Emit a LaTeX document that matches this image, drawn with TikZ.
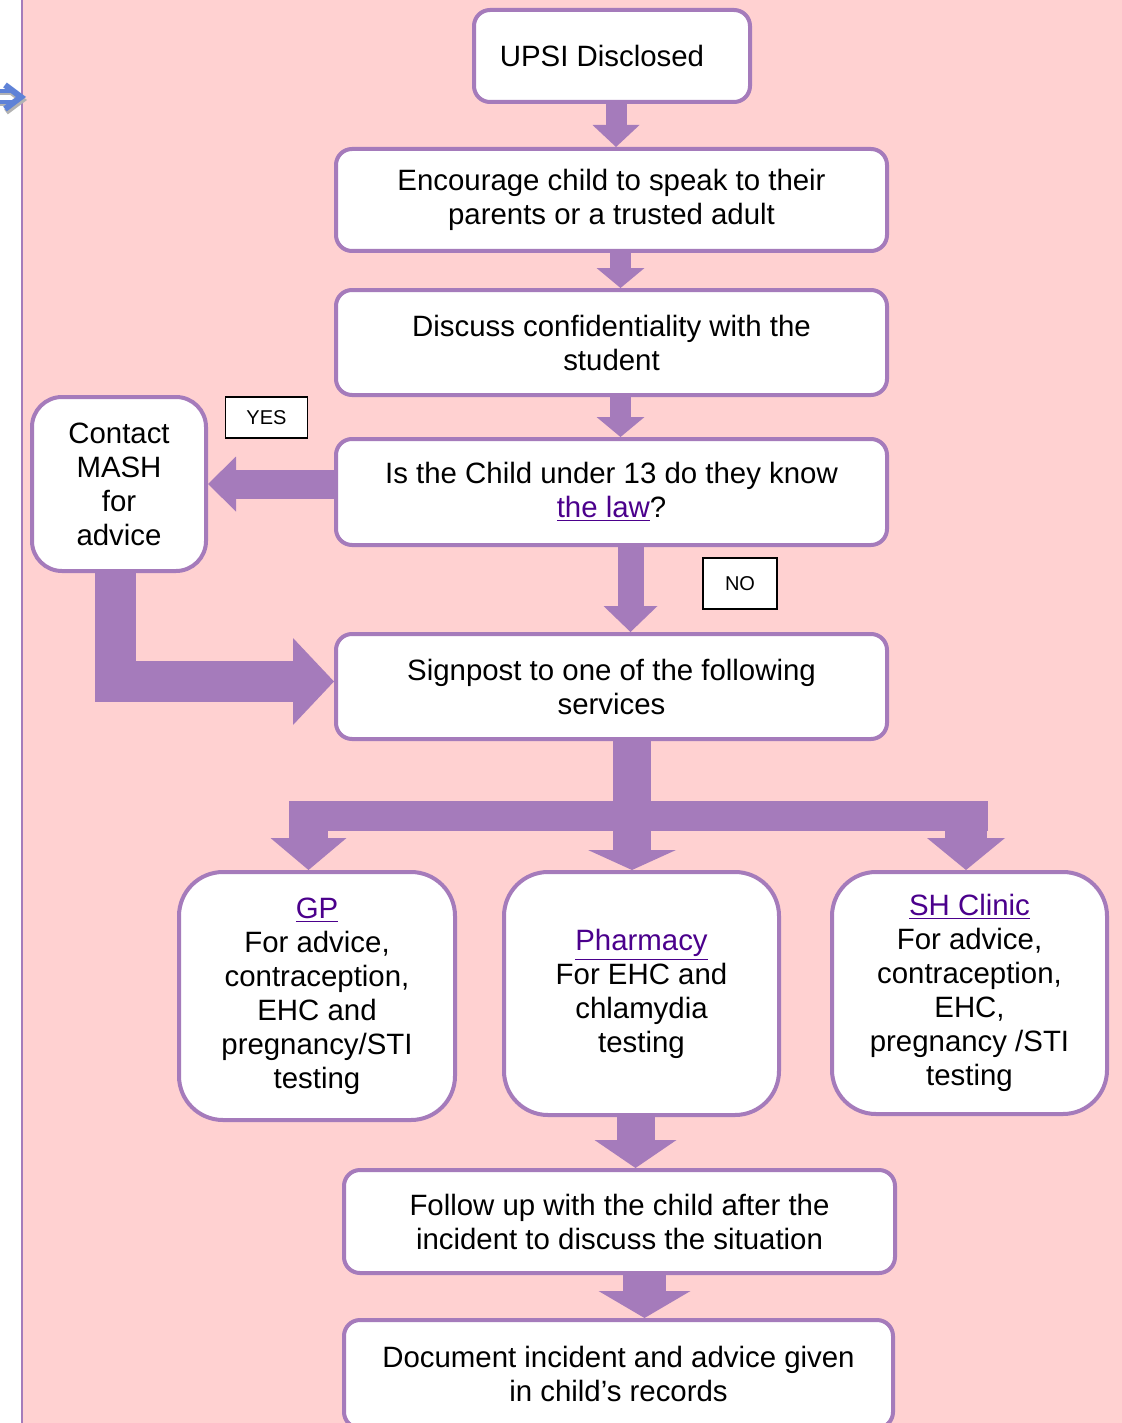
\documentclass[tikz,border=0pt]{standalone}
\usepackage{fontspec}
\setmainfont{Liberation Sans}
\usepackage{tikz}
\usetikzlibrary{arrows.meta, positioning}
\usepackage{xcolor}

\definecolor{pinkbg}{RGB}{255,209,209}
\definecolor{flowpurple}{RGB}{165,123,187}
\definecolor{linkpurple}{RGB}{75,0,140}
\definecolor{hintblue}{RGB}{95,130,215}
\newcommand{\weblink}[1]{\textcolor{linkpurple}{\underline{#1}}}

\begin{document}
\begin{tikzpicture}[x=0.5pt, y=-0.5pt,
    flowbox/.style={draw=flowpurple, line width=2pt, fill=white, rounded corners=8pt,
        align=center, inner sep=0pt, font=\fontsize{14.7}{17}\selectfont},
    tagbox/.style={draw=black, line width=0.7pt, fill=white, inner sep=0pt,
        font=\fontsize{10}{12}\selectfont},
    bigarrow/.style={draw=flowpurple, line cap=butt}]

    % page and backdrop
    \path[use as bounding box, clip] (0,0) rectangle (1122,1423);
    \fill[pinkbg] (22,0) rectangle (1122,1423);
    \draw[flowpurple, line width=1pt] (22,0) -- (22,1423);
    \draw[gray!60, line width=2pt] (0,93) -- (14,93) (0,104) -- (14,104);
    \draw[gray!60, line width=3pt] (6,88) -- (22,100) -- (6,112);
    \draw[hintblue, line width=2pt] (0,91) -- (13,91) (0,102) -- (13,102);
    \draw[hintblue, line width=3pt, line join=miter] (5,85) -- (21,97) -- (5,109);

    % main column
    \node[flowbox, minimum width=138pt, minimum height=46pt] (upsi) at (612,56) {UPSI Disclosed\hspace*{10pt}};
    \node[flowbox, minimum width=275.5pt, minimum height=51pt] (enc) at (611.5,200)
        {Encourage child to speak to their\\parents or a trusted adult};
    \node[flowbox, minimum width=275.5pt, minimum height=52.5pt] (disc) at (611.5,342.5)
        {Discuss confidentiality with the\\student};
    \node[flowbox, minimum width=275.5pt, minimum height=53pt] (isch) at (611.5,492)
        {Is the Child under 13 do they know\\\weblink{the law}?};
    \node[flowbox, rounded corners=15pt, minimum width=87pt, minimum height=87pt] (mash) at (119,484)
        {Contact\\MASH\\for\\advice};
    \node[tagbox, minimum width=41pt, minimum height=20.5pt] (yes) at (266.5,417.5) {YES};
    \node[tagbox, minimum width=37pt, minimum height=25.5pt] (no) at (740,583.5) {NO};
    \node[flowbox, minimum width=275.5pt, minimum height=52.5pt] (sign) at (611.5,686.5)
        {Signpost to one of the following\\services};

    % services
    \node[flowbox, rounded corners=22pt, minimum width=138pt, minimum height=124pt] (gp) at (317,996)
        {\weblink{GP}\\For advice,\\contraception,\\EHC and\\pregnancy/STI\\testing};
    \node[flowbox, rounded corners=22pt, minimum width=137.5pt, minimum height=121.5pt] (pharm) at (641.5,993.5)
        {\weblink{Pharmacy}\\For EHC and\\chlamydia\\testing};
    \node[flowbox, rounded corners=22pt, minimum width=137.5pt, minimum height=121pt] (shc) at (969.5,993)
        {\weblink{SH Clinic}\\For advice,\\contraception,\\EHC,\\pregnancy /STI\\testing};

    % follow up
    \node[flowbox, minimum width=275.5pt, minimum height=51.5pt] (fol) at (619.5,1221.5)
        {Follow up with the child after the\\incident to discuss the situation};
    \node[flowbox, minimum width=274.5pt, minimum height=54pt] (doc) at (618.5,1374)
        {Document incident and advice given\\in child’s records};

    % connectors
    \draw[bigarrow, line width=10.5pt, -{Triangle[length=11pt, width=23.5pt, line width=0pt]}]
        ([xshift=2pt]upsi.south) -- ([xshift=2pt]upsi.south |- enc.north);
    \draw[bigarrow, line width=10.5pt, -{Triangle[length=10pt, width=24pt, line width=0pt]}]
        ([xshift=4.5pt]enc.south) -- ([xshift=4.5pt]disc.north);
    \draw[bigarrow, line width=10.5pt, -{Triangle[length=10pt, width=24pt, line width=0pt]}]
        ([xshift=4.5pt]disc.south) -- ([xshift=4.5pt]isch.north);
    \draw[bigarrow, line width=14.5pt, -{Triangle[length=14pt, width=27.5pt, line width=0pt]}]
        (isch.west |- mash.east) -- (mash.east);
    \draw[bigarrow, line width=13pt, -{Triangle[length=13pt, width=27pt, line width=0pt]}]
        ([xshift=9.5pt]isch.south) -- ([xshift=9.5pt]sign.north);
    \draw[bigarrow, line width=20.5pt, line join=miter, -{Triangle[length=20.5pt, width=43.5pt, line width=0pt]}]
        ([xshift=-2pt]mash.south) |- ([yshift=2.5pt]sign.west);

    \coordinate (hub) at (632,816);
    \coordinate (ldrop) at (308.5,801);
    \coordinate (rdrop) at (966,801);
    \draw[bigarrow, line width=15pt] (289,816) -- (988,816);
    \draw[bigarrow, line width=19pt, -{Triangle[length=10pt, width=44pt, line width=0pt]}]
        (sign.south -| hub) -- (pharm.north -| hub);
    \draw[bigarrow, line width=19.5pt, -{Triangle[length=16pt, width=38pt, line width=0pt]}]
        (ldrop) -- (ldrop |- gp.north);
    \draw[bigarrow, line width=21pt, -{Triangle[length=16pt, width=39pt, line width=0pt]}]
        (rdrop) -- (rdrop |- shc.north);
    \draw[bigarrow, line width=19pt, -{Triangle[length=14pt, width=41pt, line width=0pt]}]
        ([xshift=-3pt]pharm.south) -- ([xshift=-3pt]pharm.south |- fol.north);
    \draw[bigarrow, line width=21.5pt, -{Triangle[length=13.5pt, width=46pt, line width=0pt]}]
        ([xshift=12.5pt]fol.south) -- ([xshift=12.5pt]fol.south |- doc.north);
\end{tikzpicture}
\end{document}
